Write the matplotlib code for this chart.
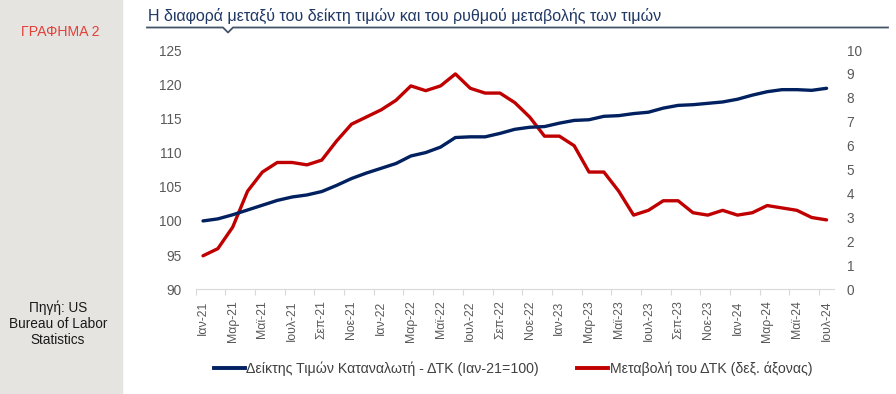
import numpy as np
import matplotlib.pyplot as plt
from matplotlib.lines import Line2D

plt.rcParams['font.family'] = ['Liberation Sans', 'DejaVu Sans']

# monthly data, Jan-21 .. Jul-24
months = ['Ιαν', 'Φεβ', 'Μαρ', 'Απρ', 'Μαϊ', 'Ιουν',
          'Ιουλ', 'Αυγ', 'Σεπ', 'Οκτ', 'Νοε', 'Δεκ']
labels = []
for yr in ['21', '22', '23', '24']:
    for m in months:
        labels.append(m + '-' + yr)
labels = labels[:43]

cpi_index = [100.0, 100.3, 100.9, 101.6, 102.3, 103.0, 103.5, 103.8, 104.3, 105.2, 106.2, 107.0,
             107.7, 108.4, 109.5, 110.0, 110.8, 112.2, 112.3, 112.3, 112.8, 113.4, 113.7, 113.8,
             114.3, 114.7, 114.8, 115.3, 115.4, 115.7, 115.9, 116.5, 116.9, 117.0, 117.2, 117.4,
             117.8, 118.4, 118.9, 119.2, 119.2, 119.1, 119.4]
cpi_change = [1.4, 1.7, 2.6, 4.1, 4.9, 5.3, 5.3, 5.2, 5.4, 6.2, 6.9, 7.2,
              7.5, 7.9, 8.5, 8.3, 8.5, 9.0, 8.4, 8.2, 8.2, 7.8, 7.2, 6.4,
              6.4, 6.0, 4.9, 4.9, 4.1, 3.1, 3.3, 3.7, 3.7, 3.2, 3.1, 3.3,
              3.1, 3.2, 3.5, 3.4, 3.3, 3.0, 2.9]

blue = '#002060'
red = '#C00000'
tick_col = '#595959'

fig = plt.figure(figsize=(8.96, 3.94), dpi=100)

# grey side panel
fig.patches.append(plt.Rectangle((0, 0), 122 / 896, 1, transform=fig.transFigure,
                                 color='#E6E4E0', zorder=0))
fig.text(60 / 896, 1 - 32 / 394, 'ΓΡΑΦΗΜΑ 2', color='#E2403A', fontsize=10.2,
         ha='center', va='center')
fig.text(58 / 896, 1 - 324 / 394, 'Πηγή: US\nBureau of Labor\nStatistics', color='#1a1a1a',
         fontsize=9.8, ha='center', va='center', linespacing=1.2)

# title with underline and notch
fig.text(148 / 896, 1 - 16 / 394,
         'Η διαφορά μεταξύ του δείκτη τιμών και του ρυθμού μεταβολής των τιμών',
         color='#1F3864', fontsize=11.5, ha='left', va='center')
line_y = 1 - 27.5 / 394
fig.add_artist(Line2D([147 / 896, 223 / 896, 228 / 896, 233 / 896, 888 / 896],
                      [line_y, line_y, line_y - 5 / 394, line_y, line_y],
                      transform=fig.transFigure, color='#44546A', lw=1.3))

ax = fig.add_axes([195.6 / 896, 1 - 289.3 / 394, 638.4 / 896, 239.3 / 394])
ax2 = ax.twinx()

x = np.arange(len(labels))
ax.plot(x, cpi_index, color=blue, lw=2.4, solid_capstyle='round', zorder=3)
ax2.plot(x, cpi_change, color=red, lw=2.4, solid_capstyle='round', zorder=3)

ax.set_xlim(-0.5, len(labels) - 0.5)
ax.set_ylim(90, 125)
ax.set_yticks(np.arange(90, 126, 5))
ax2.set_ylim(0, 10)
ax2.set_yticks(np.arange(0, 11, 1))

ax.set_xticks(x[::2])
ax.set_xticklabels(labels[::2], rotation=90)
ax.set_xticks(np.arange(-0.5, len(labels) - 1, 2), minor=True)
ax.tick_params(axis='x', which='major', length=0, pad=8, labelsize=8.8, labelcolor=tick_col)
ax.tick_params(axis='x', which='minor', length=4, color='#D9D9D9', width=0.8)
ax.tick_params(axis='y', length=0, pad=10, labelsize=9.8, labelcolor=tick_col)
ax2.tick_params(axis='y', length=0, pad=9, labelsize=9.8, labelcolor=tick_col)

for a in (ax, ax2):
    for s in ['top', 'left', 'right']:
        a.spines[s].set_visible(False)
    a.spines['bottom'].set_color('#D9D9D9')
ax2.spines['bottom'].set_visible(False)
ax.set_zorder(ax2.get_zorder() + 1)
ax.patch.set_visible(False)

handles = [Line2D([], [], color=blue, lw=2.8), Line2D([], [], color=red, lw=2.8)]
fig.legend(handles, ['Δείκτης Τιμών Καταναλωτή - ΔΤΚ (Ιαν-21=100)',
                     'Μεταβολή του ΔΤΚ (δεξ. άξονας)'],
           loc='center', bbox_to_anchor=(513 / 896, 1 - 369 / 394), ncol=2, frameon=False,
           fontsize=10.2, labelcolor='#404040', handlelength=2.2, handletextpad=0.1,
           columnspacing=2.7)

fig.savefig('out.png', dpi=100)
